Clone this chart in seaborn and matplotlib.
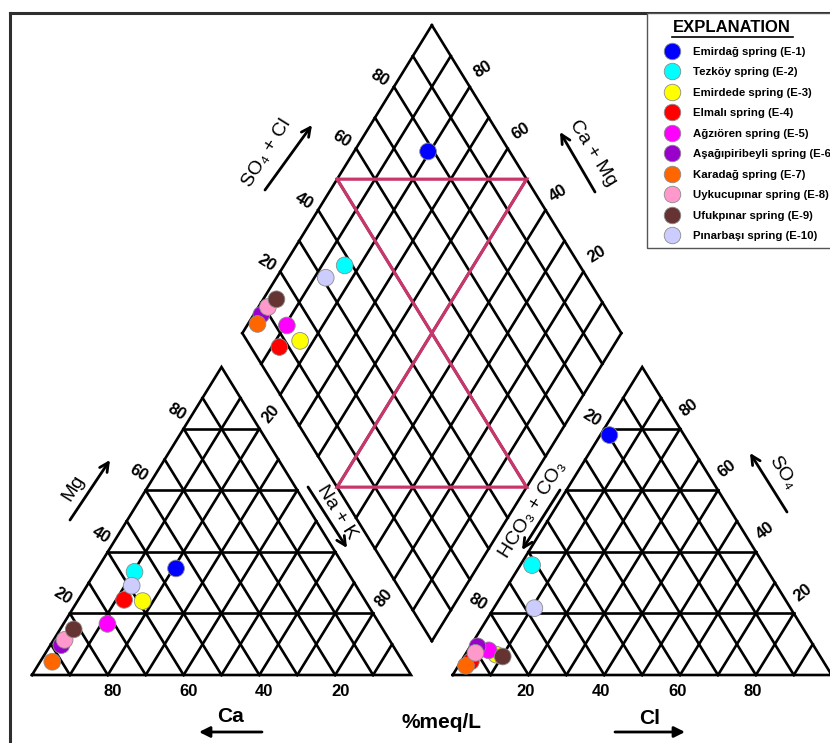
import numpy as np
import pandas as pd
import seaborn as sns
import matplotlib.pyplot as plt
from matplotlib.lines import Line2D
from matplotlib.patches import Rectangle

# Piper diagram of spring waters, values in % meq/L

samples = ["Emirdağ spring (E-1)", "Tezköy spring (E-2)", "Emirdede spring (E-3)",
           "Elmalı spring (E-4)", "Ağzıören spring (E-5)", "Aşağıpiribeyli spring (E-6)",
           "Karadağ spring (E-7)", "Uykucupınar spring (E-8)", "Ufukpınar spring (E-9)",
           "Pınarbaşı spring (E-10)"]
colors = ["#0000FF", "#00FFFF", "#FFFF00", "#FF0000", "#FF00FF", "#9900CC",
          "#FF6600", "#FF99CC", "#663333", "#CCCCFF"]

# cations (Na+K = 100 - Ca - Mg)
ca = [44.7, 56.2, 58.8, 63.5, 71.8, 87.4, 92.5, 85.7, 81.6, 59.2]
mg = [34.6, 33.5, 24.0, 24.4, 16.6, 9.7, 4.3, 11.4, 14.8, 29.0]
# anions (HCO3+CO3 = 100 - SO4 - Cl)
so4 = [77.9, 35.7, 6.6, 4.4, 8.0, 9.3, 3.0, 7.2, 6.0, 21.7]
cl = [2.4, 3.1, 8.2, 2.6, 5.5, 1.9, 2.0, 2.4, 10.2, 10.7]
# positions in the diamond
dia_ca_mg = [80.5, 84.0, 83.5, 88.0, 89.5, 98.0, 97.5, 97.5, 96.5, 87.0]
dia_so4_cl = [78.5, 38.0, 14.0, 7.5, 13.0, 8.0, 5.5, 11.0, 14.5, 31.0]

tick_vals = [20, 40, 60, 80]

H = np.sqrt(3) / 2
GAP = 0.11
# pixel scale of the picture (the original is a bit squashed vertically)
X0, Y0, XS, YS = 32, 675, 379, 355.6
W_PX, H_PX = 830, 743


def px(x, y):
    return (x - X0) / XS, (Y0 - y) / YS


def shift(pt, dx, dy):
    return pt[0] + dx / XS, pt[1] - dy / YS


def cation_xy(ca, mg):
    ca, mg = np.asarray(ca, float), np.asarray(mg, float)
    nak = 100 - ca - mg
    return (nak + mg / 2) / 100, H * mg / 100


def anion_xy(so4, cl):
    so4, cl = np.asarray(so4, float), np.asarray(cl, float)
    return 1 + GAP + (cl + so4 / 2) / 100, H * so4 / 100


def diamond_xy(camg, so4cl):
    camg, so4cl = np.asarray(camg, float), np.asarray(so4cl, float)
    return 1 + GAP / 2 + (so4cl - camg) / 200, H * (GAP + (camg + so4cl) / 100)


plt.rcParams['font.family'] = ['Liberation Sans', 'DejaVu Sans']
fig = plt.figure(figsize=(W_PX / 100, H_PX / 100), dpi=100)
ax = fig.add_axes([0, 0, 1, 1])

LW = 1.9
line_kw = dict(color="black", lw=LW, zorder=1, solid_joinstyle="miter")


def tri_grid(x0):
    ax.plot([x0, x0 + 1, x0 + 0.5, x0], [0, 0, H, 0], **line_kw)
    for k in range(1, 10):
        f = k / 10
        ax.plot([x0 + f, x0 + (1 + f) / 2], [0, H * (1 - f)], **line_kw)
        ax.plot([x0 + f, x0 + f / 2], [0, H * f], **line_kw)
    for v in tick_vals:
        f = v / 100
        ax.plot([x0 + f / 2, x0 + 1 - f / 2], [H * f, H * f], **line_kw)


tri_grid(0)
tri_grid(1 + GAP)

# diamond grid
for k in range(11):
    v = k * 10
    x, y = diamond_xy([v, v], [0, 100])
    ax.plot(x, y, **line_kw)
    x, y = diamond_xy([0, 100], [v, v])
    ax.plot(x, y, **line_kw)

# hydrochemical facies outline
hx, hy = diamond_xy([100, 50, 50, 0, 100], [50, 100, 0, 50, 50])
ax.plot(hx, hy, color="#C8376B", lw=2.3, zorder=2, solid_joinstyle="miter")

# samples
palette = dict(zip(samples, colors))
groups = [cation_xy(ca, mg), anion_xy(so4, cl), diamond_xy(dia_ca_mg, dia_so4_cl)]
for gx, gy in groups:
    df = pd.DataFrame({"sample": samples, "x": gx, "y": gy})
    sns.scatterplot(data=df, x="x", y="y", hue="sample", palette=palette, s=145,
                    edgecolor="#8c8c8c", linewidth=0.6, legend=False, ax=ax, zorder=4)

# tick labels
tick_kw = dict(fontsize=12, fontweight="bold", ha="center", va="center",
               rotation_mode="anchor")
for v in tick_vals:
    f = v / 100
    # Ca along the cation base
    ax.text(*shift((1 - f, 0), 5, 17), str(v), **tick_kw)
    # Mg on the left edge
    ax.text(*shift((f / 2, H * f), -7, -17), str(v), rotation=-32, **tick_kw)
    # Cl along the anion base
    ax.text(*shift((1 + GAP + f, 0), -3, 17), str(v), **tick_kw)
    # SO4 on the right edge of the anion triangle
    ax.text(*shift((2 + GAP - f / 2, H * f), 9, -21), str(v), rotation=38, **tick_kw)
    # SO4+Cl on the upper-left side of the diamond
    ax.text(*shift(tuple(np.ravel(diamond_xy(100, v))), -14, -9), str(v),
            rotation=-32, **tick_kw)
    # Ca+Mg on the upper-right side of the diamond
    ax.text(*shift(tuple(np.ravel(diamond_xy(v, 100))), 13, -17), str(v),
            rotation=32, **tick_kw)
for v in [20, 80]:
    f = v / 100
    # Na+K on the right edge of the cation triangle
    ax.text(*shift((f + (1 - f) / 2, H * (1 - f)), 11, -15), str(v), rotation=50, **tick_kw)
    # HCO3+CO3 on the left edge of the anion triangle
    ax.text(*shift((1 + GAP + (1 - f) / 2, H * (1 - f)), -13, -11), str(v),
            rotation=-32, **tick_kw)

# axis names and arrows
name_kw = dict(fontsize=14, ha="center", va="center", rotation_mode="anchor")
ax.text(*px(73, 488), "Mg", rotation=58, **name_kw)
ax.text(*px(337, 512), "Na + K", rotation=-58, **name_kw)
ax.text(*px(267, 153), "SO₄ + Cl", rotation=58, **name_kw)
ax.text(*px(593, 153), "Ca + Mg", rotation=-58, **name_kw)
ax.text(*px(533, 510), "HCO₃ + CO₃", rotation=58, **name_kw)
ax.text(*px(782, 473), "SO₄", rotation=-58, **name_kw)
bold_kw = dict(fontsize=15, fontweight="bold", ha="center", va="center")
ax.text(*px(230, 717), "Ca", **bold_kw)
ax.text(*px(441, 722), "%meq/L", **bold_kw)
ax.text(*px(650, 719), "Cl", **bold_kw)

open_arrow = dict(arrowstyle="->", lw=2, color="black", mutation_scale=16,
                  shrinkA=0, shrinkB=0)
solid_arrow = dict(arrowstyle="-|>", lw=2, color="black", mutation_scale=16,
                   shrinkA=0, shrinkB=0)
for tail, head in [((70, 520), (110, 460)), ((308, 487), (347, 548)),
                   ((265, 190), (312, 125)), ((595, 192), (560, 132)),
                   ((560, 490), (522, 550)), ((787, 512), (750, 453))]:
    ax.annotate("", xy=px(*head), xytext=px(*tail), arrowprops=open_arrow)
for tail, head in [((262, 732), (199, 732)), ((615, 732), (685, 732))]:
    ax.annotate("", xy=px(*head), xytext=px(*tail), arrowprops=solid_arrow)

ax.set_xlim(-X0 / XS, (W_PX - X0) / XS)
ax.set_ylim((Y0 - H_PX) / YS, Y0 / YS)
ax.axis("off")


def fx(x):
    return x / W_PX


def fy(y):
    return 1 - y / H_PX


# outer frame
fig.add_artist(Line2D([fx(9.5), fx(W_PX + 5)], [fy(12.5), fy(12.5)], color="#2e2e2e", lw=2.2))
fig.add_artist(Line2D([fx(9.5), fx(9.5)], [fy(12.5), fy(H_PX + 5)], color="#2e2e2e", lw=2.2))

# explanation box
fig.add_artist(Rectangle((fx(647), fy(248)), fx(200), 235 / H_PX, transform=fig.transFigure,
                         facecolor="white", edgecolor="#555555", lw=1, zorder=5))
fig.text(fx(732), fy(28), "EXPLANATION", fontsize=12, fontweight="bold",
         ha="center", va="center", zorder=6)
fig.add_artist(Line2D([fx(672), fx(793)], [fy(37), fy(37)], color="black", lw=1.2, zorder=6))

handles = [Line2D([], [], ls="", marker="o", markersize=11.9, markerfacecolor=c,
                  markeredgecolor="#8c8c8c", markeredgewidth=0.6) for c in colors]
leg = fig.legend(handles, samples, loc="upper left", bbox_to_anchor=(fx(666.3), fy(47)),
                 frameon=False, borderaxespad=0, borderpad=0, handlelength=1.0,
                 handletextpad=1.34, labelspacing=0.92,
                 prop=dict(family=['Liberation Sans', 'DejaVu Sans'], weight="bold", size=8.2))
leg.set_zorder(7)

fig.savefig("out.png", dpi=100)
